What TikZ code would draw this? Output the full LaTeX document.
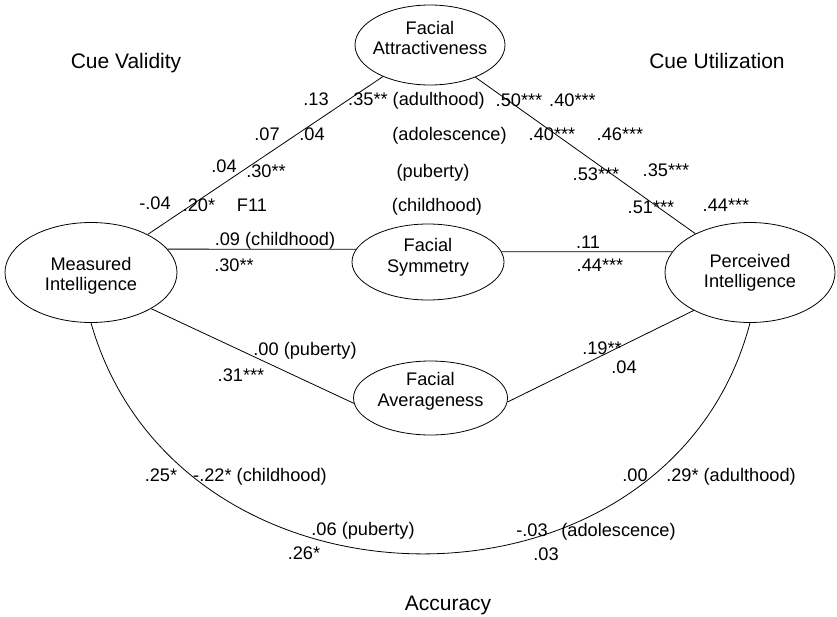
\documentclass[tikz,border=0pt]{standalone}
\usepackage{fontspec}
\setmainfont{Liberation Sans}
\usetikzlibrary{shapes.geometric}
\begin{document}
\begin{tikzpicture}[x=1pt,y=-1pt,
  lat/.style={ellipse,draw,line width=0.8pt,inner sep=0pt},
  lattext/.style={inner sep=0pt,align=center,font=\fontsize{18.2}{20.5}\selectfont},
  lbl/.style={anchor=base,inner sep=0pt,font=\fontsize{18.2}{20}\selectfont},
  ttl/.style={anchor=base,inner sep=0pt,font=\fontsize{21}{24}\selectfont},
  conn/.style={line width=0.8pt}]
\useasboundingbox[fill=white] (0,0) rectangle (837,616);
% latent variables
\node[lat,minimum width=150pt,minimum height=80pt] (fa) at (430,45) {};
\node[lat,minimum width=172pt,minimum height=100pt] (mi) at (91,272.5) {};
\node[lat,minimum width=152pt,minimum height=76pt] (fs) at (428,262) {};
\node[lat,minimum width=170pt,minimum height=100pt] (pi) at (750,272.5) {};
\node[lat,minimum width=154pt,minimum height=74pt] (fav) at (430.5,398) {};
\node[lattext] (fatx) at (430,38) {Facial\\Attractiveness};
\node[lattext] (mitx) at (91,276) {Measured\\Intelligence};
\node[lattext] (fstx) at (428,257.5) {Facial\\Symmetry};
\node[lattext] (pitx) at (750,273) {Perceived\\Intelligence};
\node[lattext] (favtx) at (430.5,391.5) {Facial\\Averageness};
% connectors
\draw[conn] (mi) -- (fa);
\draw[conn] (fa) -- (pi);
\draw[conn] (mi.17) -- (fs.170);
\draw[conn] (fs.8) -- (pi.165);
\draw[conn] (mi.-31) -- (fav.184);
\draw[conn] (pi.214) -- (fav.357);
\draw[conn] (mi.south) .. controls +(88,308) and +(-81,308) .. (pi.south);
% titles
\node[ttl] (tv) at (126,68.5) {Cue Validity};
\node[ttl] (tu) at (717,68.5) {Cue Utilization};
\node[ttl] (ta) at (448,610.5) {Accuracy};
% labels row 1
\node[lbl] (l1) at (316,105.5) {.13};
\node[lbl] (l2) at (416.5,105.5) {.35** (adulthood)};
\node[lbl] (l3) at (519,106) {.50***};
\node[lbl] (l4) at (572.5,106) {.40***};
% row 2
\node[lbl] (l5) at (267,140.5) {.07};
\node[lbl] (l6) at (312,140.5) {.04};
\node[lbl] (l7) at (449.5,140) {(adolescence)};
\node[lbl] (l8) at (552,140) {.40***};
\node[lbl] (l9) at (620,140) {.46***};
% row 3
\node[lbl] (l10) at (224,172.5) {.04};
\node[lbl] (l11) at (266,177.5) {.30**};
\node[lbl] (l12) at (433,177) {(puberty)};
\node[lbl] (l13) at (596,180.5) {.53***};
\node[lbl] (l14) at (666,176.5) {.35***};
% row 4
\node[lbl] (l15) at (155,209.5) {-.04};
\node[lbl] (l16) at (199,211.5) {.20*};
\node[lbl] (l17) at (252,211.5) {F11};
\node[lbl] (l18) at (437,211.5) {(childhood)};
\node[lbl] (l19) at (651,213.5) {.51***};
\node[lbl] (l20) at (726,211.5) {.44***};
% row 5
\node[lbl] (l21) at (275,245.5) {.09 (childhood)};
\node[lbl] (l22) at (234,271.5) {.30**};
\node[lbl] (l23) at (588,248.5) {.11};
\node[lbl] (l24) at (600,271.5) {.44***};
% lower
\node[lbl] (l25) at (305,355.5) {.00 (puberty)};
\node[lbl] (l26) at (241,381.5) {.31***};
\node[lbl] (l27) at (602,354.5) {.19**};
\node[lbl] (l28) at (624,373.5) {.04};
\node[lbl] (l29) at (161,481.5) {.25*};
\node[lbl] (l30) at (260,481.5) {-.22* (childhood)};
\node[lbl] (l31) at (635,481.5) {.00};
\node[lbl] (l32) at (731,481.5) {.29* (adulthood)};
\node[lbl] (l33) at (363,535.5) {.06 (puberty)};
\node[lbl] (l34) at (304,559.5) {.26*};
\node[lbl] (l35) at (532,536.5) {-.03};
\node[lbl] (l36) at (618.5,536.5) {(adolescence)};
\node[lbl] (l37) at (546,560.5) {.03};
\end{tikzpicture}
\end{document}
